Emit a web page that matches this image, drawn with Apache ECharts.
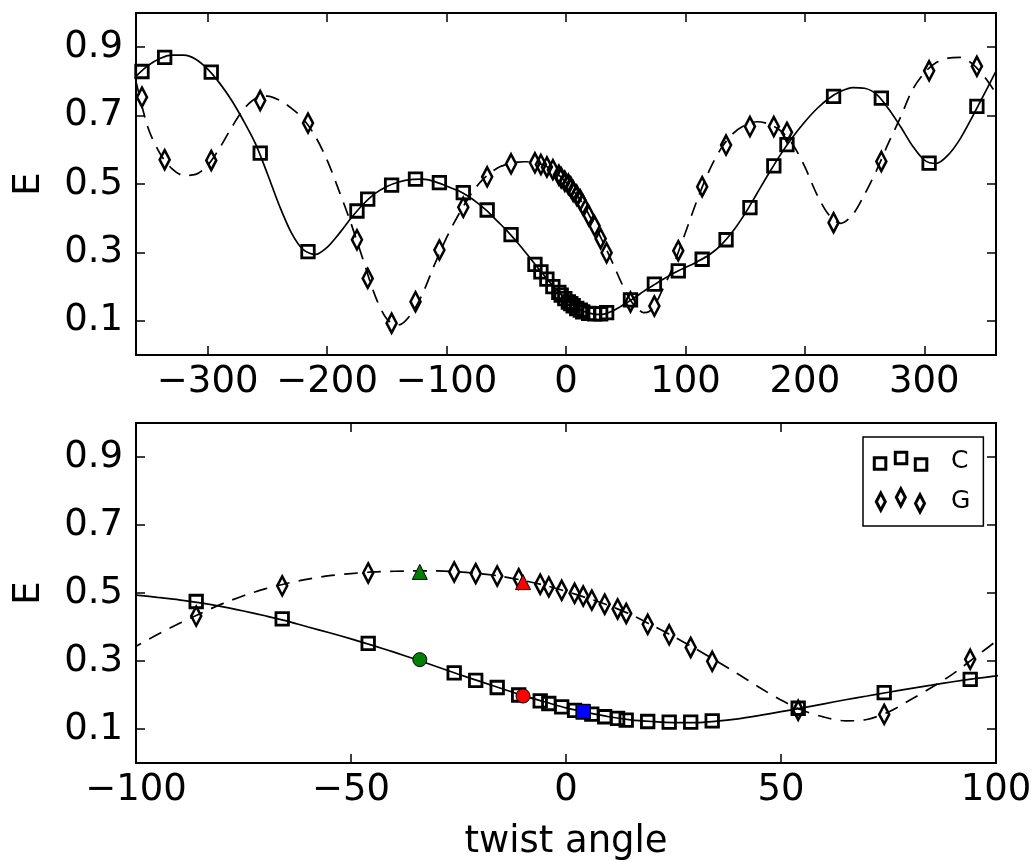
<!DOCTYPE html>
<html>
<head>
<meta charset="utf-8">
<script src="https://cdn.jsdelivr.net/npm/echarts@6/dist/echarts.min.js"></script>
<style>
html,body{margin:0;padding:0;background:#fff;}
#chart{width:1035px;height:862px;}
</style>
</head>
<body>
<div id="chart"></div>
<script>
// ---- data ----
const angles = [-355, -336, -297, -256, -216, -175, -166, -146, -126, -106, -86, -66, -46,
  -26, -21, -16, -11, -6, -4, -1, 2, 4, 6, 9, 12, 14, 19, 24, 29, 34,
  54, 74, 94, 114, 134, 154, 174, 185, 224, 264, 304, 344];
const cValues = [0.829, 0.870, 0.827, 0.590, 0.302, 0.421, 0.456, 0.497, 0.514, 0.504, 0.475, 0.424, 0.352,
  0.265, 0.243, 0.222, 0.200, 0.183, 0.175, 0.165, 0.155, 0.150, 0.144, 0.136, 0.131, 0.126, 0.122, 0.120, 0.120, 0.124,
  0.161, 0.207, 0.246, 0.280, 0.337, 0.431, 0.553, 0.615, 0.756, 0.751, 0.561, 0.727];
const gValues = [0.754, 0.571, 0.569, 0.744, 0.678, 0.337, 0.224, 0.093, 0.156, 0.307, 0.432, 0.521, 0.559,
  0.562, 0.557, 0.550, 0.542, 0.526, 0.518, 0.508, 0.499, 0.491, 0.479, 0.467, 0.453, 0.440, 0.408, 0.377, 0.340, 0.299,
  0.155, 0.143, 0.305, 0.492, 0.614, 0.668, 0.668, 0.651, 0.387, 0.566, 0.831, 0.844];

const fitAngles = [-360, -350, -340, -330, -320, -310, -300, -290, -280, -270, -260, -250, -240, -230, -220, -210, -200,
  -190, -180, -170, -160, -150, -140, -130, -120, -110,
  -100, -95, -90, -85, -80, -75, -70, -65, -60, -55, -50, -45, -40, -35, -30, -25, -20, -15, -10, -5,
  0, 5, 10, 15, 20, 25, 30, 35, 40, 45, 50, 55, 60, 65, 70, 75, 80, 85, 90, 95, 100,
  110, 120, 130, 140, 150, 160, 170, 180, 190, 200, 210, 220, 230, 240, 250, 260, 270, 280, 290, 300,
  310, 320, 330, 340, 350, 360];
const cFit = [0.815, 0.846, 0.867, 0.877, 0.877, 0.865, 0.836, 0.795, 0.745, 0.685, 0.618, 0.530, 0.437, 0.358, 0.308, 0.294, 0.315,
  0.355, 0.400, 0.440, 0.472, 0.493, 0.506, 0.513, 0.514, 0.507,
  0.494, 0.487, 0.480, 0.471, 0.460, 0.447, 0.433, 0.418, 0.400, 0.383, 0.365, 0.346, 0.326, 0.305, 0.283, 0.261, 0.240, 0.219, 0.198, 0.180,
  0.162, 0.148, 0.136, 0.127, 0.122, 0.119, 0.119, 0.123, 0.130, 0.140, 0.151, 0.162, 0.174, 0.186, 0.197, 0.208, 0.219, 0.229, 0.239, 0.248, 0.256,
  0.273, 0.293, 0.322, 0.363, 0.414, 0.473, 0.532, 0.588, 0.638, 0.682, 0.720, 0.750, 0.771, 0.782, 0.780, 0.762, 0.720, 0.668, 0.612, 0.570,
  0.560, 0.585, 0.632, 0.695, 0.762, 0.830];
const gFit = [0.800, 0.665, 0.590, 0.545, 0.525, 0.528, 0.555, 0.605, 0.665, 0.718, 0.750, 0.757, 0.745, 0.722, 0.690, 0.640, 0.570,
  0.480, 0.385, 0.280, 0.175, 0.105, 0.088, 0.118, 0.180, 0.265,
  0.343, 0.378, 0.410, 0.440, 0.468, 0.492, 0.512, 0.528, 0.541, 0.551, 0.557, 0.562, 0.564, 0.565, 0.565, 0.562, 0.557, 0.549, 0.537, 0.523,
  0.505, 0.485, 0.463, 0.437, 0.405, 0.372, 0.337, 0.300, 0.262, 0.222, 0.185, 0.155, 0.135, 0.124, 0.128, 0.150, 0.185, 0.222, 0.262, 0.310, 0.358,
  0.455, 0.540, 0.605, 0.648, 0.672, 0.682, 0.675, 0.655, 0.615, 0.550, 0.470, 0.410, 0.385, 0.410, 0.470, 0.540, 0.620, 0.695, 0.775, 0.825,
  0.855, 0.868, 0.870, 0.852, 0.815, 0.765];

// highlighted points (bottom panel)
const greenAngle = -34, greenC = 0.304, greenG = 0.562;
const redAngle = -10, redC = 0.197, redG = 0.532;
const blueAngle = 4, blueC = 0.152;

const topXTicks = [-300, -200, -100, 0, 100, 200, 300];
const bottomXTicks = [-100, -50, 0, 50, 100];
const yTicks = [0.1, 0.3, 0.5, 0.7, 0.9];

// ---- build ----
const FONT = 'DejaVu Sans';
const pairs = (xs, ys) => xs.map((x, i) => [x, ys[i]]);
const minus = v => String(v).replace('-', '\u2212');
const thinDiamond = 'path://M5,0L10,10L5,20L0,10z';

// legend glyphs: three markers per entry, slightly staggered (matplotlib style)
const glyphStroke = {fill: 'none', stroke: '#000', lineWidth: 3, lineJoin: 'miter'};
function sq(x, y) { return {type: 'rect', z: 100, silent: true, shape: {x, y, width: 11.5, height: 11.5}, style: glyphStroke}; }
function dm(cx, cy) {
  return {type: 'polygon', z: 100, silent: true,
    shape: {points: [[cx, cy - 8.6], [cx + 4.5, cy], [cx, cy + 8.6], [cx - 4.5, cy]]}, style: glyphStroke};
}

const tickStyle = {color: '#000', width: 1.5};
function xAxisPair(gridIndex, min, max, ticks, name) {
  const main = {
    type: 'value', gridIndex, min, max, position: 'bottom',
    axisLine: {show: false, onZero: false},
    axisTick: {show: true, inside: true, length: 9, lineStyle: tickStyle, customValues: ticks},
    axisLabel: {show: true, customValues: ticks, margin: 9, color: '#000', fontFamily: FONT, fontSize: 37, formatter: v => minus(v)},
    splitLine: {show: false}
  };
  if (name) {
    main.name = name;
    main.nameLocation = 'middle';
    main.nameGap = 61;
    main.nameTextStyle = {color: '#000', fontFamily: FONT, fontSize: 37};
  }
  const top = {
    type: 'value', gridIndex, min, max, position: 'top',
    axisLine: {show: false, onZero: false},
    axisTick: {show: true, inside: true, length: 9, lineStyle: tickStyle, customValues: ticks},
    axisLabel: {show: false},
    splitLine: {show: false}
  };
  return [main, top];
}
function yAxisPair(gridIndex) {
  const main = {
    type: 'value', gridIndex, min: 0, max: 1, position: 'left',
    name: 'E', nameLocation: 'middle', nameGap: 88, nameRotate: 90,
    nameTextStyle: {color: '#000', fontFamily: FONT, fontSize: 37},
    axisLine: {show: false, onZero: false},
    axisTick: {show: true, inside: true, length: 9, lineStyle: tickStyle, customValues: yTicks},
    axisLabel: {show: true, customValues: yTicks, margin: 13, color: '#000', fontFamily: FONT, fontSize: 37, formatter: v => v.toFixed(1)},
    splitLine: {show: false}
  };
  const right = {
    type: 'value', gridIndex, min: 0, max: 1, position: 'right',
    axisLine: {show: false, onZero: false},
    axisTick: {show: true, inside: true, length: 9, lineStyle: tickStyle, customValues: yTicks},
    axisLabel: {show: false},
    splitLine: {show: false}
  };
  return [main, right];
}

const xA = [...xAxisPair(0, -360, 360, topXTicks, null), ...xAxisPair(1, -100, 100, bottomXTicks, 'twist angle')];
const yA = [...yAxisPair(0), ...yAxisPair(1)];

const hollow = {color: 'transparent', borderColor: '#000', borderWidth: 2.8, opacity: 1};
function panelSeries(xi, yi, withNames) {
  return [
    {type: 'line', name: 'C fit', xAxisIndex: xi, yAxisIndex: yi, data: pairs(fitAngles, cFit), showSymbol: false, smooth: 0.3,
     lineStyle: {color: '#000', width: 1.7}, clip: true, silent: true, z: 2},
    {type: 'line', name: 'G fit', xAxisIndex: xi, yAxisIndex: yi, data: pairs(fitAngles, gFit), showSymbol: false, smooth: 0.3,
     lineStyle: {color: '#000', width: 1.7, type: [14, 9]}, clip: true, silent: true, z: 2},
    {type: 'scatter', name: withNames ? 'C' : 'C top', xAxisIndex: xi, yAxisIndex: yi, data: pairs(angles, cValues),
     symbol: 'rect', symbolSize: 12.5, itemStyle: hollow, clip: true, z: 3},
    {type: 'scatter', name: withNames ? 'G' : 'G top', xAxisIndex: xi, yAxisIndex: yi, data: pairs(angles, gValues),
     symbol: thinDiamond, symbolSize: [10, 19], itemStyle: hollow, clip: true, z: 3}
  ];
}
function mark(name, x, y, symbol, size, color) {
  return {type: 'scatter', name, xAxisIndex: 2, yAxisIndex: 2, data: [[x, y]], symbol, symbolSize: size,
    itemStyle: {color, borderColor: '#000', borderWidth: 1, opacity: 1}, z: 5};
}

const option = {
  backgroundColor: '#fff',
  animation: false,
  textStyle: {fontFamily: FONT},
  grid: [
    {left: 136, top: 13, width: 860, height: 342, show: true, borderColor: '#000', borderWidth: 2, backgroundColor: 'transparent'},
    {left: 136, top: 423, width: 860, height: 343, show: true, borderColor: '#000', borderWidth: 2, backgroundColor: 'transparent'}
  ],
  xAxis: xA,
  yAxis: yA,
  legend: {
    show: true, orient: 'vertical', left: 863, top: 437,
    backgroundColor: '#fff', borderColor: '#000', borderWidth: 1.5, borderRadius: 0,
    padding: [9.5, 13, 9.5, 10], itemGap: 10, itemWidth: 55, itemHeight: 30,
    textStyle: {color: '#000', fontFamily: FONT, fontSize: 25, padding: [0, 0, 0, 18]},
    data: [
      {name: 'C', icon: 'rect', itemStyle: {color: 'transparent', borderWidth: 0, opacity: 0}},
      {name: 'G', icon: 'rect', itemStyle: {color: 'transparent', borderWidth: 0, opacity: 0}}
    ],
    selectedMode: false
  },
  graphic: [
    sq(874.3, 457.8), sq(895.3, 452.3), sq(915.3, 458.8),
    dm(880.8, 501.7), dm(900.8, 497.3), dm(920, 503.4)
  ],
  series: [
    ...panelSeries(0, 0, false),
    ...panelSeries(2, 2, true),
    mark('green C', greenAngle, greenC, 'circle', 14, '#008000'),
    mark('green G', greenAngle, greenG, 'triangle', 15, '#008000'),
    mark('red C', redAngle, redC, 'circle', 14, '#ff0000'),
    mark('red G', redAngle, redG, 'triangle', 15, '#ff0000'),
    mark('blue C', blueAngle, blueC, 'rect', 14, '#0000ff')
  ]
};

const chart = echarts.init(document.getElementById('chart'), null, {renderer: 'canvas'});
chart.setOption(option);
</script>
</body>
</html>
